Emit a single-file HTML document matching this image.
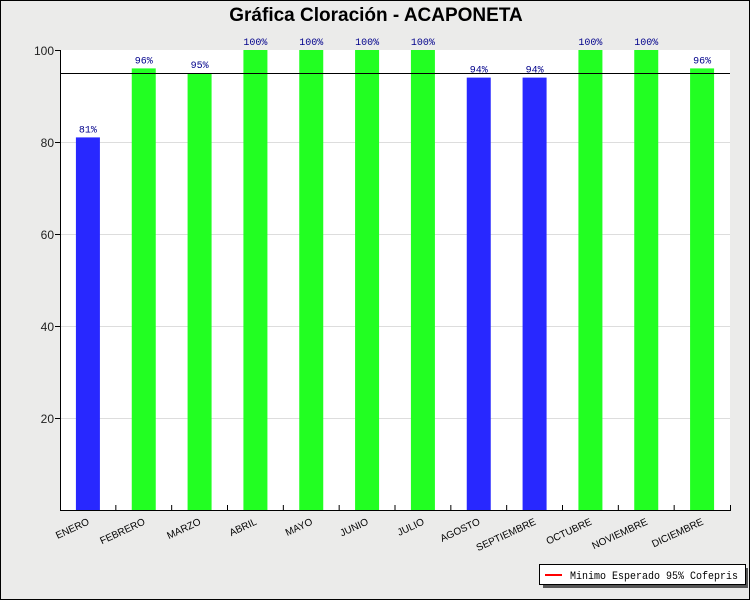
<!DOCTYPE html>
<html><head><meta charset="utf-8"><style>
body{margin:0;background:#fff}
#c{position:relative;width:748px;height:598px;border:1px solid #000;background:#ebebea;overflow:hidden;font-family:"Liberation Sans",sans-serif}
</style></head><body><div id="c">
<svg width="748" height="598" style="position:absolute;left:-1px;top:-1px">
<text x="376" y="21" text-anchor="middle" font-family="Liberation Sans" font-weight="bold" font-size="19" fill="#000">Gráfica Cloración - ACAPONETA</text>
<rect x="60" y="50" width="670" height="460" fill="#fff"/>
<g stroke="#ddd" stroke-width="1">
<line x1="60" x2="730" y1="142.5" y2="142.5"/><line x1="60" x2="730" y1="234.5" y2="234.5"/><line x1="60" x2="730" y1="326.5" y2="326.5"/><line x1="60" x2="730" y1="418.5" y2="418.5"/>
</g>
<g font-family="Liberation Sans" font-size="12" fill="#222" text-anchor="end">
<text x="54" y="55">100</text><text x="54" y="147">80</text><text x="54" y="239">60</text><text x="54" y="331">40</text><text x="54" y="423">20</text>
</g>
<g stroke="#000"><line x1="55" x2="60" y1="50.5" y2="50.5"/><line x1="55" x2="60" y1="142.5" y2="142.5"/><line x1="55" x2="60" y1="234.5" y2="234.5"/><line x1="55" x2="60" y1="326.5" y2="326.5"/><line x1="55" x2="60" y1="418.5" y2="418.5"/></g>
<g id="bars"></g>
<line x1="60" x2="730" y1="73.5" y2="73.5" stroke="#000" stroke-width="1"/>
<line x1="60.5" x2="60.5" y1="50" y2="510" stroke="#000"/>
<line x1="60" x2="731" y1="510.5" y2="510.5" stroke="#000"/>
<line x1="730.5" x2="730.5" y1="505" y2="511" stroke="#000"/>
<rect x="543" y="568" width="206" height="20" fill="#555"/>
<rect x="539.5" y="564.5" width="206" height="20" fill="#fff" stroke="#000"/>
<line x1="545" x2="562" y1="575" y2="575" stroke="#f00" stroke-width="2"/>
<text x="570" y="579" font-family="Liberation Mono" font-size="11" fill="#000" textLength="168" lengthAdjust="spacingAndGlyphs">Minimo Esperado 95% Cofepris</text>
</svg>
<script>
var v=[81,96,95,100,100,100,100,94,94,100,100,96],n=["ENERO","FEBRERO","MARZO","ABRIL","MAYO","JUNIO","JULIO","AGOSTO","SEPTIEMBRE","OCTUBRE","NOVIEMBRE","DICIEMBRE"];
var g=document.getElementById("bars"),s="",w=670/12;
for(var i=0;i<12;i++){var cx=60+w*(i+0.5),y=510-4.6*v[i];
s+='<rect x="'+(cx-12)+'" y="'+y+'" width="24" height="'+(510-y)+'" fill="'+(v[i]<95?'#2828ff':'#22ff22')+'"/>';
s+='<text x="'+cx+'" y="'+(y-5)+'" text-anchor="middle" font-family="Liberation Mono" font-size="10" fill="#00008b">'+v[i]+'%</text>';
s+='<text transform="translate('+(cx+2)+',524) rotate(-25)" text-anchor="end" font-family="Liberation Sans" font-size="10" fill="#000">'+n[i]+'</text>';
if(i>0)s+='<line x1="'+(60+w*i)+'" x2="'+(60+w*i)+'" y1="505" y2="510" stroke="#000"/>';}
g.innerHTML=s;
</script>
</div></body></html>
